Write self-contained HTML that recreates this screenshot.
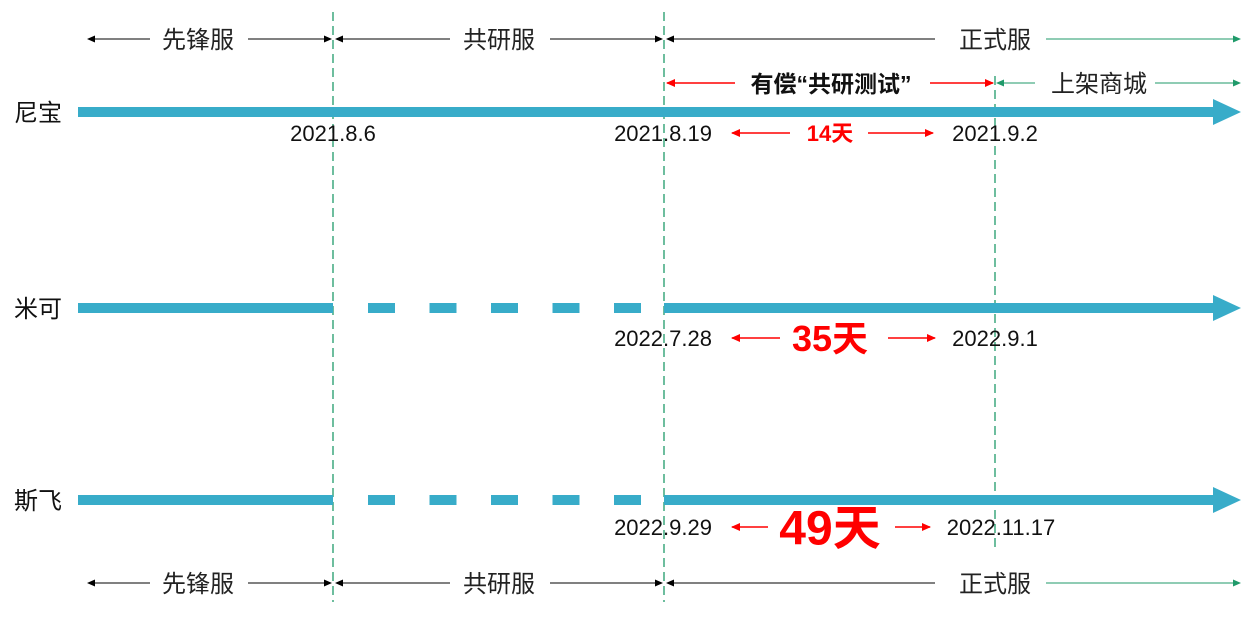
<!DOCTYPE html>
<html><head><meta charset="utf-8">
<style>
html,body{margin:0;padding:0;background:#fff;}
svg{display:block;font-family:"Liberation Sans","Noto Sans CJK SC",sans-serif;}
</style></head>
<body>
<svg id="chart" width="1256" height="644" viewBox="0 0 1256 644" xmlns="http://www.w3.org/2000/svg">
<defs>
<marker id="ab" markerWidth="8" markerHeight="8" refX="7" refY="4" orient="auto-start-reverse" markerUnits="userSpaceOnUse"><path d="M0,0.5 L8,4 L0,7.5 z" fill="#000"/></marker>
<marker id="ag" markerWidth="8" markerHeight="8" refX="7" refY="4" orient="auto-start-reverse" markerUnits="userSpaceOnUse"><path d="M0,0.5 L8,4 L0,7.5 z" fill="#1f9a6a"/></marker>
<marker id="ar" markerWidth="9" markerHeight="9" refX="8" refY="4.5" orient="auto-start-reverse" markerUnits="userSpaceOnUse"><path d="M0,0.5 L9,4.5 L0,8.5 z" fill="#f00"/></marker>
</defs>
</svg>
<script>
// data
const products = ['尼宝','米可','斯飞'];
const startDates = ['2021.8.19','2022.7.28','2022.9.29'];
const endDates = ['2021.9.2','2022.9.1','2022.11.17'];
const gapDays = [14, 35, 49];
const hasPioneer = [true, false, false];
const phaseNames = ['先锋服','共研服','正式服'];

const svg = document.getElementById('chart');
const NS = 'http://www.w3.org/2000/svg';
function mk(tag, attrs, text){
  const e = document.createElementNS(NS, tag);
  for (const k in attrs) e.setAttribute(k, attrs[k]);
  if (text !== undefined) e.textContent = text;
  svg.appendChild(e);
  return e;
}
const rowY = [112, 308, 500];
const X1 = 333, X2 = 664, X3 = 995;
const BAR = '#38acc9';

let v;
v = mk('line',{x1:X1,y1:12,x2:X1,y2:602,stroke:'#1f9a6a','stroke-width':1.3,'stroke-dasharray':'9,5'});


v = mk('line',{x1:X2,y1:12,x2:X2,y2:602,stroke:'#1f9a6a','stroke-width':1.3,'stroke-dasharray':'9,5'});


v = mk('line',{x1:X3,y1:76,x2:X3,y2:548,stroke:'#1f9a6a','stroke-width':1.3,'stroke-dasharray':'9,5'});



[39, 583].forEach((y, i) => {
  const pos = i === 0 ? 'top' : 'bottom';
  const segs = [
    [88,150,'#000','ab','start'],[248,331,'#000','ab','end'],
    [336,450,'#000','ab','start'],[550,662,'#000','ab','end'],
    [667,935,'#000','ab','start'],[1046,1240,'#1f9a6a','ag','end']
  ];
  segs.forEach(s => {
    const a = {x1:s[0],y1:y,x2:s[1],y2:y,stroke:s[2],'stroke-width':1};
    if (s[4]==='start') a['marker-start']='url(#'+s[3]+')'; else a['marker-end']='url(#'+s[3]+')';
    const l = mk('line',a);
    
    
  });
  const cx = [198, 499, 995];
  phaseNames.forEach((n, j) => {
    const t = mk('text',{x:cx[j],y:y+9,'font-size':24,'text-anchor':'middle',fill:'#222'}, n);
    
    
  });
});

let e;
e = mk('line',{x1:667,y1:83,x2:735,y2:83,stroke:'#f00','stroke-width':1.5,'marker-start':'url(#ar)'});


e = mk('line',{x1:930,y1:83,x2:993,y2:83,stroke:'#f00','stroke-width':1.5,'marker-end':'url(#ar)'});


e = mk('text',{x:831,y:92,'font-size':23,'font-weight':'bold','text-anchor':'middle',fill:'#111'},'有偿“共研测试”');


e = mk('line',{x1:997,y1:83,x2:1035,y2:83,stroke:'#1f9a6a','stroke-width':1,'marker-start':'url(#ag)'});


e = mk('line',{x1:1155,y1:83,x2:1240,y2:83,stroke:'#1f9a6a','stroke-width':1,'marker-end':'url(#ag)'});


e = mk('text',{x:1099,y:92,'font-size':24,'text-anchor':'middle',fill:'#222'},'上架商城');



e = mk('text',{x:333,y:141,'font-size':22,'text-anchor':'middle',fill:'#111'},'2021.8.6');



const gapLeftEnd = [790, 780, 768];
const gapRightStart = [868, 888, 895];
const gapRightEnd = [933, 935, 930];
const gapFont = [22, 36, 48];

products.forEach((p, i) => {
  const y = rowY[i];
  const t = mk('text',{x:14,y:y+9,'font-size':24,fill:'#111'}, p);
  
  
  if (hasPioneer[i]) {
    const b = mk('rect',{x:78,y:y-5,width:1140,height:10,fill:BAR});
    
    
  } else {
    const b1 = mk('rect',{x:78,y:y-5,width:X1-78,height:10,fill:BAR});
    
    
    for (let k = 0; k < 5; k++) {
      const d = mk('rect',{x:368+k*61.5,y:y-5,width:27,height:10,fill:BAR});
      
      
    }
    const b2 = mk('rect',{x:X2,y:y-5,width:1218-X2,height:10,fill:BAR});
    
    
  }
  const h = mk('polygon',{points:`1213,${y-13} 1241,${y} 1213,${y+13}`,fill:BAR});
  
  

  const dy = [133, 338, 527][i];
  const s = mk('text',{x:X2-1,y:dy+8,'font-size':22,'text-anchor':'middle',fill:'#111'}, startDates[i]);
  
  
  const en = mk('text',{x:X3+(i===2?6:0),y:dy+8,'font-size':22,'text-anchor':'middle',fill:'#111'}, endDates[i]);
  
  

  const fs = gapFont[i];
  const g = mk('text',{x:830,y:dy+fs*0.36,'font-size':fs,'font-weight':'bold','text-anchor':'middle',fill:'#f00'}, gapDays[i]+'天');
  
  
  const la = mk('line',{x1:732,y1:dy,x2:gapLeftEnd[i],y2:dy,stroke:'#f00','stroke-width':1.5,'marker-start':'url(#ar)'});
  
  
  const ra = mk('line',{x1:gapRightStart[i],y1:dy,x2:gapRightEnd[i],y2:dy,stroke:'#f00','stroke-width':1.5,'marker-end':'url(#ar)'});
  
  
});
</script>
</body></html>
